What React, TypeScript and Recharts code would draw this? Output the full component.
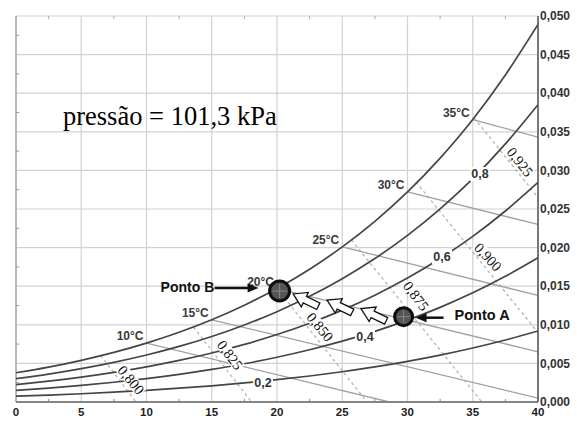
import React from "react";
import {
  ComposedChart,
  Line,
  XAxis,
  YAxis,
  CartesianGrid,
  ReferenceDot,
  ReferenceLine,
} from "recharts";

// Dry-bulb temperature (°C) sample points for the humidity curves
const temps = [0, 2.5, 5, 7.5, 10, 12.5, 15, 17.5, 20, 22.5, 25, 27.5, 30, 32.5, 35, 37.5, 40];
// Humidity ratio (kg/kg)
const rh100 = [0.00379, 0.00452, 0.0054, 0.00643, 0.00763, 0.00903, 0.01065, 0.01253, 0.0147, 0.0172, 0.02009, 0.0234, 0.02721, 0.03159, 0.03659, 0.04236, 0.0489];
const rh80 = [0.00302, 0.00361, 0.00432, 0.00514, 0.00609, 0.0072, 0.00849, 0.00998, 0.0117, 0.01369, 0.01597, 0.01858, 0.02158, 0.02502, 0.02893, 0.03343, 0.03851];
const rh60 = [0.00226, 0.00271, 0.00323, 0.00384, 0.00456, 0.00539, 0.00635, 0.00746, 0.00874, 0.01021, 0.0119, 0.01383, 0.01605, 0.01858, 0.02145, 0.02474, 0.02844];
const rh40 = [0.00151, 0.0018, 0.00215, 0.00256, 0.00303, 0.00358, 0.00422, 0.00495, 0.0058, 0.00677, 0.00788, 0.00915, 0.01061, 0.01226, 0.01414, 0.01628, 0.01868];
const rh20 = [0.00075, 0.0009, 0.00107, 0.00128, 0.00151, 0.00179, 0.0021, 0.00247, 0.00289, 0.00337, 0.00392, 0.00454, 0.00526, 0.00607, 0.00699, 0.00803, 0.0092];
const rhSeries = [rh100, rh80, rh60, rh40, rh20];

// RH curve labels
const rhLabelText = ["0,8", "0,6", "0,4", "0,2"];
const rhLabelT = [35.56, 32.64, 26.74, 18.93];
const rhLabelW = [0.02953, 0.01878, 0.00842, 0.00246];

// Wet-bulb lines (start on saturation curve)
const wbLabels = ["10°C", "15°C", "20°C", "25°C", "30°C", "35°C"];
const wbTemps = [10, 15, 20, 25, 30, 35];
const wbStartW = [0.00763, 0.01065, 0.0147, 0.02009, 0.02721, 0.03659];
const wbEndT = [28.6, 40, 40, 40, 40, 40];
const wbEndW = [0, 0.0005, 0.0065, 0.0138, 0.023, 0.0343];

// Specific volume lines (m³/kg)
const volLabels = ["0,800", "0,825", "0,850", "0,875", "0,900", "0,925"];
const volTopT = [6.5, 13.6, 20.0, 25.7, 30.65, 35.1];
const volTopW = [0.006, 0.0097, 0.0147, 0.021, 0.0285, 0.0368];
const volEndT = [9.2, 18.05, 26.9, 35.7, 40, 40];
const volEndW = [0, 0, 0, 0, 0.009, 0.0265];
const volLabelT = [8.81, 16.4, 23.3, 30.65, 36.17, 38.62];
const volLabelW = [0.00285, 0.00609, 0.00971, 0.01373, 0.01878, 0.03109];
const volLabelAngle = [50, 53, 50, 53, 47, 52];

// Axes
const xTicks = [0, 5, 10, 15, 20, 25, 30, 35, 40];
const yTicks = [0, 0.005, 0.01, 0.015, 0.02, 0.025, 0.03, 0.035, 0.04, 0.045, 0.05];
const xMinor = [2.5, 7.5, 12.5, 17.5, 22.5, 27.5, 32.5, 37.5];
const yMinor = [0.0025, 0.0075, 0.0125, 0.0175, 0.0225, 0.0275, 0.0325, 0.0375, 0.0425, 0.0475];

// Annotations
const pontoA = { t: 29.7, w: 0.01105 };
const pontoB = { t: 20.2, w: 0.01438 };
const arrowT = [22.2, 24.8, 27.4];
const arrowW = [0.0132, 0.0124, 0.0113];
const pressaoPos = { t: 3.6, w: 0.0359 };

const SANS = "'Liberation Sans', Arial, Helvetica, sans-serif";
const SERIF = "'Liberation Serif', 'Times New Roman', serif";

const rhData = rhSeries.map((s) => temps.map((t, i) => ({ t, w: s[i] })));
const wbData = wbTemps.map((t, i) => [
  { t, w: wbStartW[i] },
  { t: wbEndT[i], w: wbEndW[i] },
]);
const volData = volTopT.map((t, i) => [
  { t, w: volTopW[i] },
  { t: volEndT[i], w: volEndW[i] },
]);

const fmtY = (v: number) => v.toFixed(3).replace(".", ",");

const tempLabelShape = (text: string) => (p: any) => (
  <text
    x={p.cx - 3}
    y={p.cy - 6}
    textAnchor="end"
    dominantBaseline="middle"
    fontFamily={SANS}
    fontWeight={700}
    fontSize={12}
    fill="#3a3a3a"
  >
    {text}
  </text>
);

const rhLabelShape = (text: string) => (p: any) => (
  <g>
    <rect x={p.cx - 10} y={p.cy - 7} width={20} height={14} fill="#fff" />
    <text
      x={p.cx}
      y={p.cy}
      textAnchor="middle"
      dominantBaseline="central"
      fontFamily={SANS}
      fontWeight={700}
      fontSize={12.5}
      fill="#333"
    >
      {text}
    </text>
  </g>
);

const volLabelShape = (text: string, angle: number) => (p: any) => (
  <g transform={`translate(${p.cx},${p.cy}) rotate(${angle})`}>
    <rect x={-17} y={-6} width={34} height={12} fill="#fff" />
    <text
      x={0}
      y={0}
      textAnchor="middle"
      dominantBaseline="central"
      fontFamily={SERIF}
      fontSize={14.5}
      fill="#111"
    >
      {text}
    </text>
  </g>
);

const hollowArrow = (p: any) => (
  <polygon
    points="14,0 1,-8 1,-3.6 -14,-3.6 -14,3.6 1,3.6 1,8"
    transform={`translate(${p.cx},${p.cy}) rotate(206)`}
    fill="#fff"
    stroke="#111"
    strokeWidth={1.3}
    strokeLinejoin="miter"
  />
);

const pointCircle = (r: number) => (p: any) => (
  <g>
    <circle cx={p.cx} cy={p.cy} r={r} fill="#555" stroke="#0d0d0d" strokeWidth={3} />
    <line x1={p.cx - r + 3} y1={p.cy} x2={p.cx + r - 3} y2={p.cy} stroke="#888" strokeWidth={1} />
    <line x1={p.cx} y1={p.cy - r + 3} x2={p.cx} y2={p.cy + r - 3} stroke="#888" strokeWidth={1} />
  </g>
);

const pontoBLabel = (p: any) => (
  <g>
    <text x={p.cx - 119} y={p.cy + 1} fontFamily={SANS} fontWeight={700} fontSize={14} fill="#111">
      Ponto B
    </text>
    <line x1={p.cx - 65} y1={p.cy - 3} x2={p.cx - 31} y2={p.cy - 3} stroke="#111" strokeWidth={2.5} />
    <polygon
      points={`${p.cx - 21},${p.cy - 3} ${p.cx - 32},${p.cy - 7.5} ${p.cx - 32},${p.cy + 1.5}`}
      fill="#111"
    />
  </g>
);

const pontoALabel = (p: any) => (
  <g>
    <text x={p.cx + 51} y={p.cy + 3} fontFamily={SANS} fontWeight={700} fontSize={14.5} fill="#111">
      Ponto A
    </text>
    <line x1={p.cx + 40} y1={p.cy + 1} x2={p.cx + 22} y2={p.cy + 1} stroke="#111" strokeWidth={2.5} />
    <polygon
      points={`${p.cx + 12},${p.cy + 1} ${p.cx + 23},${p.cy - 3.5} ${p.cx + 23},${p.cy + 5.5}`}
      fill="#111"
    />
  </g>
);

const pressaoShape = (p: any) => (
  <text x={p.cx} y={p.cy} fontFamily={SERIF} fontSize={26.5} fill="#000">
    pressão = 101,3 kPa
  </text>
);

export default function App() {
  return (
    <div style={{ position: "fixed", left: 0, top: 0, width: 577, height: 421, background: "#fff" }}>
      <ComposedChart width={577} height={421} margin={{ top: 16, right: 0, bottom: 0, left: 16 }}>
        <CartesianGrid stroke="#d2d2d2" strokeWidth={1.2} />
        <XAxis
          type="number"
          dataKey="t"
          domain={[0, 40]}
          ticks={xTicks}
          allowDataOverflow
          height={19}
          tickLine={false}
          tickSize={0}
          tickMargin={6}
          axisLine={{ stroke: "#858585", strokeWidth: 2 }}
          tick={{ fontFamily: SANS, fontWeight: 700, fontSize: 11.5, fill: "#222" }}
          interval={0}
        />
        <YAxis
          type="number"
          orientation="right"
          domain={[0, 0.05]}
          ticks={yTicks}
          allowDataOverflow
          width={39}
          tickLine={false}
          tickSize={0}
          tickMargin={2}
          tickFormatter={fmtY}
          axisLine={{ stroke: "#555", strokeWidth: 1.5 }}
          tick={{ fontFamily: SANS, fontWeight: 700, fontSize: 12, fill: "#333", textAnchor: "start" }}
          interval={0}
        />
        <ReferenceLine x={0} stroke="#9a9a9a" strokeWidth={1.2} />

        {xMinor.map((t) => (
          <ReferenceLine
            key={"mb" + t}
            segment={[{ x: t, y: 0 }, { x: t, y: 0.0004 }]}
            stroke="#888"
          />
        ))}
        {xMinor.map((t) => (
          <ReferenceLine
            key={"mt" + t}
            segment={[{ x: t, y: 0.05 }, { x: t, y: 0.0496 }]}
            stroke="#aaa"
          />
        ))}
        {yMinor.map((w) => (
          <ReferenceLine
            key={"ml" + w}
            segment={[{ x: 0, y: w }, { x: 0.25, y: w }]}
            stroke="#999"
          />
        ))}

        {volData.map((d, i) => (
          <Line
            key={"vol" + i}
            data={d}
            dataKey="w"
            type="linear"
            stroke="#b4b4b4"
            strokeWidth={1.3}
            strokeDasharray="3 3"
            dot={false}
            activeDot={false}
            isAnimationActive={false}
          />
        ))}
        {wbData.map((d, i) => (
          <Line
            key={"wb" + i}
            data={d}
            dataKey="w"
            type="linear"
            stroke="#a0a0a0"
            strokeWidth={1.3}
            dot={false}
            activeDot={false}
            isAnimationActive={false}
          />
        ))}
        {rhData.map((d, i) => (
          <Line
            key={"rh" + i}
            data={d}
            dataKey="w"
            type="monotone"
            stroke="#454545"
            strokeWidth={1.7}
            dot={false}
            activeDot={false}
            isAnimationActive={false}
          />
        ))}

        {volLabels.map((txt, i) => (
          <ReferenceDot
            key={"vl" + i}
            x={volLabelT[i]}
            y={volLabelW[i]}
            r={0}
            shape={volLabelShape(txt, volLabelAngle[i])}
          />
        ))}
        {rhLabelText.map((txt, i) => (
          <ReferenceDot key={"rl" + i} x={rhLabelT[i]} y={rhLabelW[i]} r={0} shape={rhLabelShape(txt)} />
        ))}
        {wbLabels.map((txt, i) => (
          <ReferenceDot key={"tl" + i} x={wbTemps[i]} y={wbStartW[i]} r={0} shape={tempLabelShape(txt)} />
        ))}

        {arrowT.map((t, i) => (
          <ReferenceDot key={"ar" + i} x={t} y={arrowW[i]} r={0} shape={hollowArrow} />
        ))}

        <ReferenceDot x={pontoB.t} y={pontoB.w} r={10} shape={pointCircle(10)} />
        <ReferenceDot x={pontoA.t} y={pontoA.w} r={9} shape={pointCircle(9)} />
        <ReferenceDot x={pontoB.t} y={pontoB.w} r={0} shape={pontoBLabel} />
        <ReferenceDot x={pontoA.t} y={pontoA.w} r={0} shape={pontoALabel} />
        <ReferenceDot x={pressaoPos.t} y={pressaoPos.w} r={0} shape={pressaoShape} />
      </ComposedChart>
    </div>
  );
}
